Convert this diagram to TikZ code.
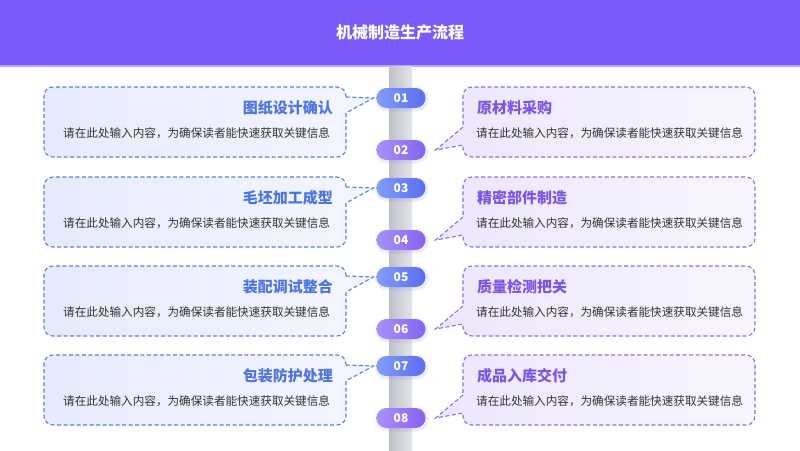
\documentclass[tikz,border=0pt]{standalone}
\usepackage{fontspec}
\setmainfont{Noto Sans CJK SC}
\usetikzlibrary{calc}
\definecolor{hdr}{HTML}{7B59FA}
\definecolor{hdrline}{HTML}{B7A5FB}
\definecolor{poleL}{HTML}{BFC2C9}
\definecolor{poleM}{HTML}{D0D3D8}
\definecolor{poleR}{HTML}{E2E4E8}
\definecolor{lbL}{HTML}{E6EBFD}
\definecolor{lbR}{HTML}{F4F5FE}
\definecolor{rbL}{HTML}{EDE6FD}
\definecolor{rbR}{HTML}{F8F5FE}
\definecolor{lline}{HTML}{5B7FD9}
\definecolor{rline}{HTML}{8E6FE3}
\definecolor{ltitle}{HTML}{4D74E3}
\definecolor{rtitle}{HTML}{7B55E3}
\definecolor{bodytxt}{HTML}{333333}
\definecolor{pbL}{HTML}{829EF8}
\definecolor{pbR}{HTML}{5B6CF2}
\definecolor{ppL}{HTML}{AA90F7}
\definecolor{ppR}{HTML}{8663F2}
\tikzset{
  pillbox/.style={rounded corners=10pt, minimum width=49pt, minimum height=20pt, inner sep=0pt,
    text=white, font=\bfseries\fontsize{12}{12}\selectfont},
  pillodd/.style={pillbox, shading angle=115, left color=pbL, right color=pbR},
  pilleven/.style={pillbox, left color=ppL, right color=ppR},
  glowodd/.style={fill=pbR, opacity=0.12, rounded corners=12pt, minimum width=53pt, minimum height=24pt, inner sep=0pt},
  gloweven/.style={fill=ppR, opacity=0.12, rounded corners=12pt, minimum width=53pt, minimum height=24pt, inner sep=0pt},
  lborder/.style={draw=lline, line width=1.1pt, dash pattern=on 4pt off 2.5pt},
  rborder/.style={draw=rline, line width=1.1pt, dash pattern=on 4pt off 2.5pt},
  ltitlestyle/.style={anchor=east, text=ltitle, font=\bfseries\fontsize{15}{15}\selectfont, inner sep=0pt},
  rtitlestyle/.style={anchor=west, text=rtitle, font=\bfseries\fontsize{15}{15}\selectfont, inner sep=0pt},
  bodystyle/.style={text=bodytxt, font=\fontsize{11.6}{11.6}\selectfont, inner sep=0pt},
}
\begin{document}
\begin{tikzpicture}[x=1pt,y=-1pt]
\useasboundingbox (0,0) rectangle (800,450);
\fill[white] (0,0) rectangle (800,450);
\fill[hdr] (0,0) rectangle (800,65);
\fill[hdrline] (0,65) rectangle (800,66.5);
\node[text=white, font=\bfseries\fontsize{16}{16}\selectfont, inner sep=0pt] (title) at (400,32) {机械制造生产流程};
\shade[left color=poleL, middle color=poleM, right color=poleR] (389,66.5) rectangle (412,450);

% left boxes
\foreach \y/\t [count=\k] in {87/图纸设计确认, 177/毛坯加工成型, 266/装配调试整合, 355/包装防护处理}{
  \pgfmathtruncatemacro{\n}{2*\k-1}
  \node[glowodd] at (402,\y+12.5) {};
  \node[pillodd] (p\n) at (401,\y+11) {0\n};
  \coordinate (lt\k) at ($(p\n.west)+(-3pt,0)$);
  \def\boxpath{(346,\y+10) -- (lt\k) -- (346,\y+26) -- (346,\y+61)
    .. controls (346,\y+66) and (342,\y+70) .. (337,\y+70) -- (53,\y+70)
    .. controls (48,\y+70) and (44,\y+66) .. (44,\y+61) -- (44,\y+9)
    .. controls (44,\y+4) and (48,\y) .. (53,\y) -- (337,\y)
    .. controls (342,\y) and (346,\y+4) .. (346,\y+9) -- (346,\y+10)}
  \shade[left color=lbL, right color=lbR] \boxpath -- cycle;
  \draw[lborder] \boxpath;
  \node[ltitlestyle] (lh\k) at (333,\y+21) {\t};
  \node[bodystyle, anchor=west] (lb\k) at (63,\y+46) {请在此处输入内容，为确保读者能快速获取关键信息};
}

% right boxes
\foreach \y/\t [count=\k] in {87/原材料采购, 177/精密部件制造, 266/质量检测把关, 355/成品入库交付}{
  \pgfmathtruncatemacro{\n}{2*\k}
  \node[gloweven] at (402,\y+64.5) {};
  \node[pilleven] (p\n) at (401,\y+63) {0\n};
  \coordinate (rt\k) at ($(p\n.east)+(10pt,0)$);
  \def\boxpath{(463,\y+40) -- (rt\k) -- (463,\y+58) -- (463,\y+61)
    .. controls (463,\y+66) and (467,\y+70) .. (472,\y+70) -- (746,\y+70)
    .. controls (751,\y+70) and (755,\y+66) .. (755,\y+61) -- (755,\y+9)
    .. controls (755,\y+4) and (751,\y) .. (746,\y) -- (472,\y)
    .. controls (467,\y) and (463,\y+4) .. (463,\y+9) -- (463,\y+40)}
  \shade[left color=rbL, right color=rbR] \boxpath -- cycle;
  \draw[rborder] \boxpath;
  \node[rtitlestyle] (rh\k) at (477,\y+21) {\t};
  \node[bodystyle, anchor=west] (rb\k) at (476,\y+46) {请在此处输入内容，为确保读者能快速获取关键信息};
}
\end{tikzpicture}
\end{document}
